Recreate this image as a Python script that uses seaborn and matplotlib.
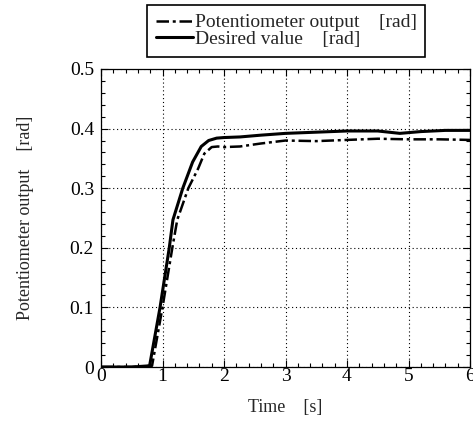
import numpy as np
import pandas as pd
import matplotlib
matplotlib.use("Agg")
import matplotlib.pyplot as plt
import seaborn as sns
from matplotlib.ticker import MultipleLocator, FuncFormatter

# values
t_des = [0, 0.5, 0.79, 0.96, 1.11, 1.17, 1.33, 1.49, 1.63, 1.75, 1.88, 2.0,
         2.26, 2.6, 3.0, 3.5, 4.0, 4.5, 4.86, 5.2, 5.6, 6.0]
v_des = [0, 0, 0.002, 0.1, 0.2, 0.247, 0.3, 0.344, 0.370, 0.380, 0.384, 0.385,
         0.386, 0.389, 0.392, 0.394, 0.396, 0.396, 0.392, 0.395, 0.397, 0.397]
t_pot = [0, 0.5, 0.83, 1.0, 1.16, 1.24, 1.42, 1.58, 1.68, 1.80, 1.9, 2.0,
         2.26, 2.6, 3.0, 3.5, 4.0, 4.5, 5.0, 5.5, 6.0]
v_pot = [0, 0, 0.002, 0.1, 0.2, 0.247, 0.3, 0.333, 0.358, 0.369, 0.370, 0.369,
         0.370, 0.375, 0.380, 0.379, 0.381, 0.383, 0.382, 0.382, 0.381]

lab_pot = "Potentiometer output    [rad]"
lab_des = "Desired value    [rad]"

sns.set_style("ticks")
plt.rcParams['font.family'] = ['Liberation Serif', 'DejaVu Serif']

fig = plt.figure(figsize=(4.73, 4.21), dpi=100)
ax = fig.add_axes([101 / 473, 54 / 421, 369 / 473, 298 / 421])

pot = pd.DataFrame({"t": t_pot, "v": v_pot})
des = pd.DataFrame({"t": t_des, "v": v_des})
sns.lineplot(data=pot, x="t", y="v", ax=ax, color="black", lw=1.8,
             linestyle=(0, (5, 1.5, 1.2, 1.5)), label=lab_pot)
sns.lineplot(data=des, x="t", y="v", ax=ax, color="black", lw=2.2,
             label=lab_des)

ax.set_xlim(0, 6)
ax.set_ylim(0, 0.5)
ax.xaxis.set_major_locator(MultipleLocator(1))
ax.xaxis.set_minor_locator(MultipleLocator(0.2))
ax.yaxis.set_major_locator(MultipleLocator(0.1))
ax.yaxis.set_minor_locator(MultipleLocator(0.02))
ax.yaxis.set_major_formatter(FuncFormatter(lambda v, p: "0" if abs(v) < 1e-9 else f"{v:.1f}"))
ax.xaxis.set_major_formatter(FuncFormatter(lambda v, p: f"{v:.0f}"))
ax.tick_params(which="both", direction="in", top=True, right=True,
               labelsize=14, colors="black")
ax.tick_params(which="major", length=5, width=0.8)
ax.tick_params(which="minor", length=3, width=0.8)
ax.tick_params(axis="x", pad=1)
ax.tick_params(axis="y", pad=5)
for s in ax.spines.values():
    s.set_color("black")
    s.set_linewidth(0.9)
ax.grid(True, which="major", color="black", linestyle=(0, (1, 2.5)), lw=0.8)

ax.set_xlabel("Time    [s]", fontsize=13, labelpad=10)
ax.set_ylabel("Potentiometer output    [rad]", fontsize=13, labelpad=26)

leg = ax.legend(loc="upper left", bbox_to_anchor=(147 / 473, 1 - 5 / 421),
                bbox_transform=fig.transFigure, fontsize=14, frameon=True,
                fancybox=False, shadow=False, handlelength=1.9,
                handletextpad=0.1, labelspacing=-0.05, borderpad=0.45,
                borderaxespad=0)
leg.get_frame().set_edgecolor("black")
leg.get_frame().set_linewidth(1.2)
leg.get_frame().set_alpha(1)

fig.savefig("out.png", dpi=100)
